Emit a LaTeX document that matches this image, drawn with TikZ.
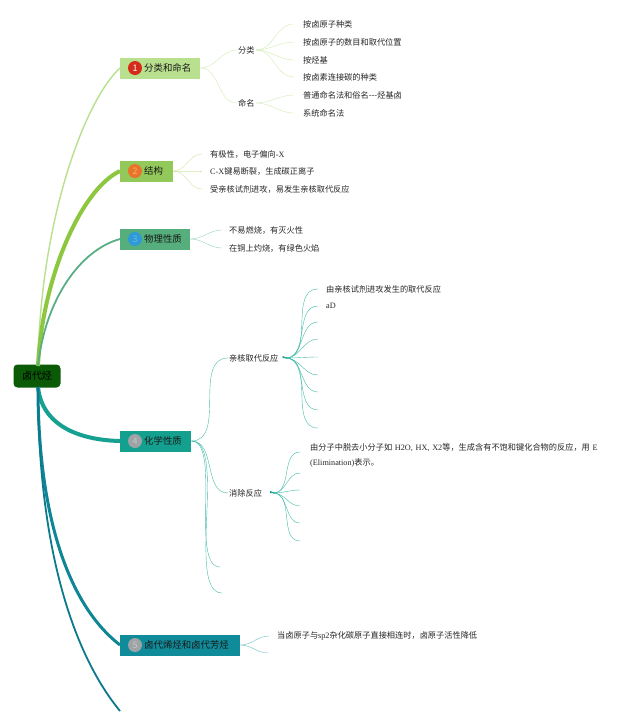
\documentclass[tikz,border=0pt]{standalone}
\usepackage{fontspec}
\setmainfont{Noto Sans CJK SC}
\newfontfamily\latf{Liberation Serif}
\usetikzlibrary{positioning}
\definecolor{cA}{HTML}{B9E08E}
\definecolor{cAl}{HTML}{D3EBB6}
\definecolor{cB}{HTML}{93C95A}
\definecolor{cBl}{HTML}{8DC63F}
\definecolor{cBs}{HTML}{CFE6A6}
\definecolor{cC}{HTML}{55AE7C}
\definecolor{cCl}{HTML}{5AAE86}
\definecolor{cCs}{HTML}{9ED2BC}
\definecolor{cD}{HTML}{13A08F}
\definecolor{cDl}{HTML}{15A092}
\definecolor{cDs}{HTML}{45BCA9}
\definecolor{cE}{HTML}{108B9A}
\definecolor{cEl}{HTML}{0E8696}
\definecolor{cEs}{HTML}{6FBFC8}
\definecolor{cF}{HTML}{0C7A8C}
\definecolor{rootc}{HTML}{0B5A07}
\definecolor{red1}{HTML}{D52B1A}
\definecolor{org2}{HTML}{E8732A}
\definecolor{blu3}{HTML}{2E9BD8}
\definecolor{gry}{HTML}{9EA3A6}
\tikzset{
  rootbox/.style={fill=rootc, rounded corners=4pt, minimum width=47pt, minimum height=23pt, inner sep=0pt, font=\fontsize{10}{12}\selectfont, text=black},
  topbox/.style={anchor=west, minimum height=21pt, inner sep=0pt},
  numc/.style={circle, minimum size=14pt, inner sep=0pt, font=\fontsize{9}{10}\selectfont},
  toptext/.style={anchor=west, inner sep=0pt, font=\fontsize{9.4}{11}\selectfont, text=black!90},
  subtext/.style={anchor=west, inner sep=1pt, font=\fontsize{8.2}{10}\selectfont, text=black!85},
  leaf/.style={anchor=west, inner sep=0pt, font=\fontsize{8.2}{10}\selectfont, text=black!85},
  fan/.style={out=0, in=180, line width=0.6pt},
}
\begin{document}
\begin{tikzpicture}[x=1pt,y=-1pt]
\useasboundingbox[fill=white] (0,0) rectangle (640,726);

% root
\node[rootbox] (root) at (37,376) {卤代烃};
\coordinate (rt) at (38,366);
\coordinate (rb) at (38,387);

% ---------- branch 1
\node[topbox, fill=cA, minimum width=80pt] (n1) at (120,68) {};
\node[numc, fill=red1, text=white] (n1c) at (135,68) {1};
\node[toptext] (n1t) at (144,68) {分类和命名};
\draw[cA, line width=1.4pt] (rt) .. controls (40,220) and (85,100) .. (n1.west);

\node[subtext] (s11) at (237,50) {分类};
\node[subtext] (s12) at (237,103) {命名};
\draw[cAl] (n1.east) to[fan] (s11.west);
\draw[cAl] (n1.east) to[fan] (s12.west);

\node[leaf] (l111) at (303,24) {按卤原子种类};
\node[leaf] (l112) at (303,42) {按卤原子的数目和取代位置};
\node[leaf] (l113) at (303,60) {按烃基};
\node[leaf] (l114) at (303,77) {按卤素连接碳的种类};
\node[leaf] (l121) at (303,95) {普通命名法和俗名-{}-{}-烃基卤};
\node[leaf] (l122) at (303,113) {系统命名法};
\foreach \l in {l111,l112,l113,l114}
  \draw[cAl] (s11.east) to[fan] ([xshift=-9pt]\l.west);
\foreach \l in {l121,l122}
  \draw[cAl] (s12.east) to[fan] ([xshift=-9pt]\l.west);

% ---------- branch 2
\node[topbox, fill=cB, minimum width=53pt] (n2) at (120,171) {};
\node[numc, fill=org2, text=orange!60] (n2c) at (135,171) {2};
\node[toptext] (n2t) at (144,171) {结构};
\draw[cBl, line width=4pt] (rt) .. controls (42,280) and (80,190) .. (n2.west);

\node[leaf] (l21) at (210,154) {有极性，电子偏向{\latf -X}};
\node[leaf] (l22) at (210,171) {{\latf C-X}键易断裂，生成碳正离子};
\node[leaf] (l23) at (210,189) {受亲核试剂进攻，易发生亲核取代反应};
\foreach \l in {l21,l22,l23}
  \draw[cBs] (n2.east) to[fan] ([xshift=-8pt]\l.west);

% ---------- branch 3
\node[topbox, fill=cC, minimum width=70pt] (n3) at (120,239) {};
\node[numc, fill=blu3, text=blu3!70!white] (n3c) at (135,239) {3};
\node[toptext] (n3t) at (144,239) {物理性质};
\draw[cCl, line width=1.8pt] (rt) .. controls (45,300) and (80,250) .. (n3.west);

\node[leaf] (l31) at (229,230) {不易燃烧，有灭火性};
\node[leaf] (l32) at (229,248) {在铜上灼烧，有绿色火焰};
\foreach \l in {l31,l32}
  \draw[cCs] (n3.east) to[fan] ([xshift=-7pt]\l.west);

% ---------- branch 4
\node[topbox, fill=cD, minimum width=71pt] (n4) at (120,441) {};
\node[numc, fill=gry, text=gry!60!white] (n4c) at (135,441) {4};
\node[toptext] (n4t) at (144,441) {化学性质};
\draw[cDl, line width=4pt] (rb) .. controls (42,425) and (78,440) .. (n4.west);

\node[subtext] (s41) at (228,358) {亲核取代反应};
\node[subtext] (s42) at (228,493) {消除反应};
\coordinate (e41) at (220,567);
\coordinate (e42) at (222,593);
\draw[cDs] (n4.east) to[fan] (s41.west);
\draw[cDs] (n4.east) to[fan] (s42.west);
\draw[cDs] (n4.east) to[out=0,in=180,line width=0.6pt,looseness=0.6] (e41);
\draw[cDs] (n4.east) to[out=0,in=180,line width=0.6pt,looseness=0.6] (e42);

\node[leaf] (l411) at (326,289) {由亲核试剂进攻发生的取代反应};
\node[leaf] (l412) at (326,306) {\latf aD};
\draw[cDs] ([xshift=6pt]s41.east) to[fan] ([xshift=-8pt]l411.west);
\draw[cDs] ([xshift=6pt]s41.east) to[fan] ([xshift=-8pt]l412.west);
\foreach \y [count=\i] in {322,339,357,375,392,410,428} {
  \coordinate (f41\i) at (318,\y);
  \draw[cDs] ([xshift=6pt]s41.east) to[fan] (f41\i);
}
\fill[cD] ([xshift=3pt]s41.east) -- ([xshift=8pt]s41.east) -- ([xshift=3pt,yshift=2pt]s41.east) -- cycle;

\node[leaf, align=left, text width=300pt, font=\fontsize{8.2}{15}\selectfont] (l421) at (310,455) {由分子中脱去小分子如 {\latf H2O, HX, X2}等，生成含有不饱和键化合物的反应，用 {\latf E}\\{\latf (Elimination)}表示。};
\draw[cDs] ([xshift=10pt]s42.east) to[fan] (300,452);
\foreach \y [count=\i] in {473,490,506,523,541} {
  \coordinate (f42\i) at (300,\y);
  \draw[cDs] ([xshift=10pt]s42.east) to[fan] (f42\i);
}
\fill[cD] ([xshift=7pt]s42.east) -- ([xshift=12pt]s42.east) -- ([xshift=7pt,yshift=2pt]s42.east) -- cycle;

% ---------- branch 5
\node[topbox, fill=cE, minimum width=120pt] (n5) at (120,645) {};
\node[numc, fill=gry, text=gry!60!white] (n5c) at (135,645) {5};
\node[toptext] (n5t) at (144,645) {卤代烯烃和卤代芳烃};
\draw[cEl, line width=3pt] (rb) .. controls (38,500) and (62,600) .. (n5.west);

\node[leaf] (l51) at (277,636) {当卤原子与{\latf sp2}杂化碳原子直接相连时，卤原子活性降低};
\coordinate (e51) at (268,653);
\draw[cEs] (n5.east) to[fan] ([xshift=-8pt]l51.west);
\draw[cEs] (n5.east) to[fan] (e51);

% ---------- branch 6 (empty)
\coordinate (e6) at (120,711);
\draw[cF, line width=1.8pt] (rb) .. controls (38,540) and (70,650) .. (e6);
\end{tikzpicture}
\end{document}
